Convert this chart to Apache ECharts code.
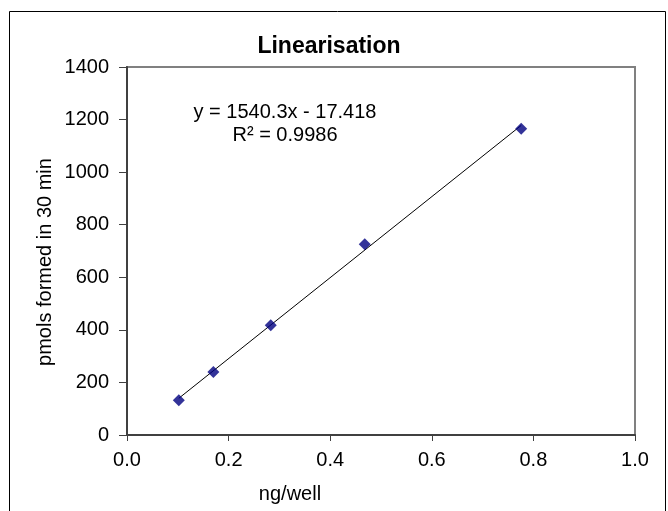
<!DOCTYPE html>
<html><head><meta charset="utf-8">
<script src="https://cdn.jsdelivr.net/npm/echarts@6/dist/echarts.min.js"></script>
<style>html,body{margin:0;padding:0;background:#fff}#c{width:668px;height:511px}</style>
</head><body><div id="c"></div>
<script>
const xValues = [0.102, 0.170, 0.283, 0.468, 0.776];
const yValues = [132, 240, 418, 726, 1165];
const xTicks = ['0.0','0.2','0.4','0.6','0.8','1.0'];
const yTicks = ['0','200','400','600','800','1000','1200','1400'];
const slope = 1540.3, intercept = -17.418;

const pts = xValues.map((x,i)=>[x,yValues[i]]);
const xmin = Math.min(...xValues), xmax = Math.max(...xValues);
const trend = [[xmin, slope*xmin+intercept],[xmax, slope*xmax+intercept]];
const font = 'Liberation Sans';

const chart = echarts.init(document.getElementById('c'));
chart.setOption({
  animation:false,
  backgroundColor:'#fff',
  grid:{left:127,right:33,top:67,bottom:76,show:true,borderColor:'#808080',borderWidth:2,backgroundColor:'#fff'},
  xAxis:{type:'value',min:0,max:1,interval:0.2,
    axisLine:{show:true,onZero:false,lineStyle:{color:'#404040',width:2}},
    axisTick:{show:true,length:6,lineStyle:{color:'#404040',width:1}},
    splitLine:{show:false},
    axisLabel:{margin:15,color:'#000',fontSize:20,fontFamily:font,formatter:(v)=>xTicks[Math.round(v/0.2)]}
  },
  yAxis:{type:'value',min:0,max:1400,interval:200,
    axisLine:{show:true,onZero:false,lineStyle:{color:'#404040',width:2}},
    axisTick:{show:true,length:8,lineStyle:{color:'#404040',width:1}},
    splitLine:{show:false},
    axisLabel:{margin:18,color:'#000',fontSize:20,fontFamily:font,formatter:(v)=>yTicks[Math.round(v/200)]}
  },
  graphic:[
    {type:'rect',shape:{x:9.5,y:11.5,width:656,height:520},style:{fill:'none',stroke:'#000',lineWidth:1},z:-10},
    {type:'text',x:329,y:47,style:{text:'Linearisation',align:'center',verticalAlign:'middle',fontSize:23,fontWeight:'bold',fontFamily:font,fill:'#000'}},
    {type:'text',x:285,y:112,style:{text:'y = 1540.3x - 17.418',align:'center',verticalAlign:'middle',fontSize:20,fontFamily:font,fill:'#000'}},
    {type:'text',x:285,y:135,style:{text:'R² = 0.9986',align:'center',verticalAlign:'middle',fontSize:20,fontFamily:font,fill:'#000'}},
    {type:'text',x:290,y:494,style:{text:'ng/well',align:'center',verticalAlign:'middle',fontSize:20,fontFamily:font,fill:'#000'}},
    {type:'text',x:45,y:262,rotation:Math.PI/2,style:{text:'pmols formed in 30 min',align:'center',verticalAlign:'middle',fontSize:20,fontFamily:font,fill:'#000'}}
  ],
  series:[
    {type:'line',data:trend,showSymbol:false,symbol:'none',lineStyle:{color:'#000',width:1},z:2,silent:true},
    {type:'scatter',data:pts,symbol:'diamond',symbolSize:12,itemStyle:{color:'#000080'},z:3}
  ]
});
</script></body></html>
